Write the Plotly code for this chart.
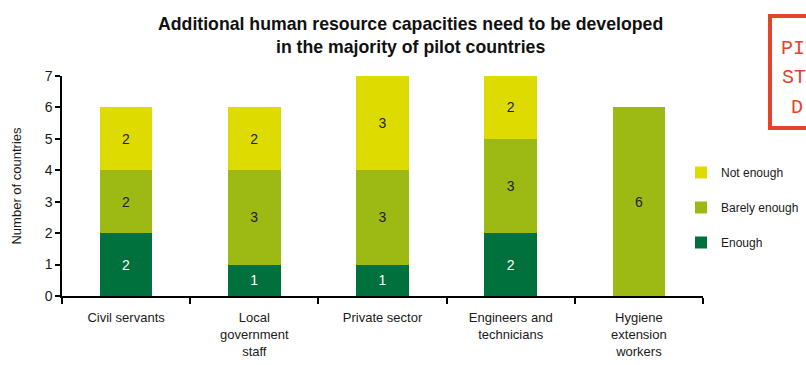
import plotly.graph_objects as go

categories = ["Civil servants", "Local<br>government<br>staff", "Private sector",
              "Engineers and<br>technicians", "Hygiene<br>extension<br>workers"]
enough = [2, 1, 1, 2, 0]
barely_enough = [2, 3, 3, 3, 6]
not_enough = [2, 2, 3, 2, 0]

series = [
    ("Enough", enough, "#00703c", "white", 3),
    ("Barely enough", barely_enough, "#9cb914", "#222222", 2),
    ("Not enough", not_enough, "#dedb00", "#222222", 1),
]

W, H = 806, 365
ML, MR, MT, MB = 62, 103, 76, 69
PW, PH = W - ML - MR, H - MT - MB

def px(x):
    return (x - ML) / PW

def py(y):
    return 1 - (y - MT) / PH

FONT = "Liberation Sans Narrow, Arial Narrow, Liberation Sans, Arial, sans-serif"

fig = go.Figure()
for name, vals, color, tcolor, rank in series:
    fig.add_trace(go.Bar(
        x=categories,
        y=[v if v > 0 else None for v in vals],
        name=name,
        marker=dict(color=color, line=dict(width=0)),
        text=[str(v) if v > 0 else "" for v in vals],
        textposition="inside",
        insidetextanchor="middle",
        textangle=0,
        textfont=dict(color=tcolor, size=14, family=FONT),
        width=0.41,
        legendgroup=name,
        legendrank=rank,
        hoverinfo="skip",
    ))

fig.update_layout(
    width=W, height=H,
    barmode="stack",
    plot_bgcolor="white", paper_bgcolor="white",
    margin=dict(l=ML, r=MR, t=MT, b=MB, pad=0, autoexpand=False),
    font=dict(family=FONT, size=13, color="#1a1a1a"),
    showlegend=True,
    legend=dict(
        x=px(681), xanchor="left", y=py(158), yanchor="top",
        traceorder="grouped", tracegroupgap=16,
        font=dict(size=12, family=FONT, color="#1a1a1a"), itemwidth=30,
        bgcolor="rgba(0,0,0,0)",
    ),
    uniformtext=dict(minsize=10, mode="show"),
)

fig.add_annotation(
    text="<b>Additional human resource capacities need to be developed<br>in the majority of pilot countries</b>",
    xref="paper", yref="paper", x=px(410), y=py(36), xanchor="center", yanchor="middle",
    showarrow=False, align="center",
    font=dict(size=17.7, color="#111111", family=FONT),
)

fig.update_xaxes(
    showline=True, linecolor="black", linewidth=1.5,
    ticks="outside", tickson="boundaries", ticklen=6, tickcolor="black", tickwidth=1.5,
    showgrid=False, range=[-0.5, 4.5], tickfont=dict(size=13, family=FONT, color="#1a1a1a"),
    ticklabelstandoff=9,
    automargin=False,
)
fig.update_yaxes(
    showline=True, linecolor="black", linewidth=1.5,
    ticks="outside", ticklen=5, tickcolor="black", tickwidth=1.5,
    showgrid=False, range=[0, 7], dtick=1, zeroline=False,
    tickfont=dict(size=14, family=FONT, color="#1a1a1a"), automargin=False,
    title=dict(text="Number of countries", font=dict(size=13, family=FONT, color="#1a1a1a"),
               standoff=20),
)

# Decorative stamp partially visible at top right
stamp_red = "#e5432a"
x0, x1, y0, y1 = px(770), px(840), py(16), py(128)
fig.add_shape(type="rect", xref="paper", yref="paper", x0=x0, x1=x1, y0=y0, y1=y1,
              line=dict(color=stamp_red, width=4), fillcolor="rgba(0,0,0,0)", layer="above")
for txt, xx, yy in [("PI", 779, 48), ("ST", 780, 78), ("D", 789, 107)]:
    fig.add_annotation(text=txt, xref="paper", yref="paper", x=px(xx), y=py(yy),
                       xanchor="left", yanchor="middle", showarrow=False,
                       font=dict(family="Liberation Mono, DejaVu Sans Mono, monospace",
                                 size=20, color=stamp_red))

fig.write_html("out.html", config={"displayModeBar": False},
               post_script="document.body.style.margin='0';document.body.style.overflow='hidden';")
